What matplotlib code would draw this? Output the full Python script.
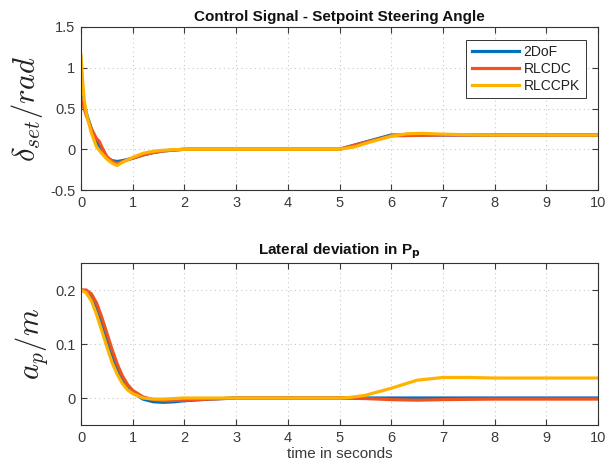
import matplotlib
matplotlib.use("Agg")
import matplotlib.pyplot as plt

plt.rcParams['font.family'] = ['Liberation Sans', 'DejaVu Sans']
plt.rcParams['mathtext.fontset'] = 'cm'

# ---- Top plot: setpoint steering angle (rad) ----
t_d_2dof = [0, 0.05, 0.1, 0.2, 0.3, 0.4, 0.5, 0.6, 0.7, 0.8, 0.9, 1.0, 1.2, 1.4, 1.6, 1.8, 2.0, 3.0, 4.0, 5.0, 5.5, 6.0, 6.5, 7.0, 8.0, 9.0, 10.0]
d_2dof   = [0.66, 0.56, 0.45, 0.25, 0.10, -0.02, -0.10, -0.14, -0.15, -0.14, -0.125, -0.11, -0.07, -0.04, -0.02, -0.01, 0.0, 0.0, 0.0, 0.0, 0.088, 0.175, 0.175, 0.175, 0.175, 0.175, 0.175]

t_d_rlcdc = [0, 0.05, 0.1, 0.2, 0.3, 0.35, 0.4, 0.5, 0.6, 0.7, 0.8, 0.9, 1.0, 1.2, 1.4, 1.6, 1.8, 2.0, 3.0, 4.0, 5.0, 5.5, 6.0, 6.5, 7.0, 8.0, 9.0, 10.0]
d_rlcdc   = [0.62, 0.52, 0.42, 0.25, 0.13, 0.10, 0.03, -0.09, -0.15, -0.17, -0.155, -0.13, -0.11, -0.07, -0.04, -0.02, -0.01, 0.0, 0.0, 0.0, 0.0, 0.085, 0.165, 0.17, 0.175, 0.175, 0.175, 0.175]

t_d_rlccpk = [0, 0.03, 0.06, 0.1, 0.2, 0.3, 0.4, 0.5, 0.6, 0.7, 0.8, 0.9, 1.0, 1.2, 1.4, 1.6, 1.8, 2.0, 3.0, 4.0, 5.0, 5.3, 5.6, 6.0, 6.3, 6.6, 7.0, 7.5, 8.0, 9.0, 10.0]
d_rlccpk   = [1.15, 0.85, 0.62, 0.45, 0.20, 0.03, -0.05, -0.12, -0.17, -0.20, -0.16, -0.13, -0.10, -0.05, -0.025, -0.012, -0.005, 0.0, 0.0, 0.0, 0.0, 0.03, 0.09, 0.16, 0.19, 0.195, 0.185, 0.178, 0.175, 0.175, 0.175]

# ---- Bottom plot: lateral deviation (m) ----
t_a_2dof = [0, 0.1, 0.2, 0.3, 0.4, 0.5, 0.6, 0.7, 0.8, 0.9, 1.0, 1.2, 1.4, 1.6, 1.8, 2.0, 2.5, 3.0, 5.0, 10.0]
a_2dof   = [0.2, 0.198, 0.19, 0.17, 0.14, 0.11, 0.08, 0.055, 0.035, 0.02, 0.01, -0.002, -0.007, -0.008, -0.007, -0.005, -0.002, 0.0, 0.0, 0.0]

t_a_rlcdc = [0, 0.1, 0.2, 0.3, 0.4, 0.5, 0.6, 0.7, 0.8, 0.9, 1.0, 1.2, 1.4, 1.6, 2.0, 3.0, 5.0, 5.5, 6.0, 6.5, 7.0, 8.0, 10.0]
a_rlcdc   = [0.2, 0.2, 0.193, 0.176, 0.15, 0.12, 0.09, 0.063, 0.041, 0.025, 0.014, 0.002, -0.003, -0.005, -0.004, 0.0, 0.0, -0.001, -0.003, -0.004, -0.003, -0.002, -0.002]

t_a_rlccpk = [0, 0.1, 0.2, 0.3, 0.4, 0.5, 0.6, 0.7, 0.8, 0.9, 1.0, 1.2, 1.4, 1.6, 2.0, 3.0, 5.0, 5.2, 5.5, 6.0, 6.5, 7.0, 7.5, 8.0, 10.0]
a_rlccpk   = [0.2, 0.195, 0.18, 0.155, 0.125, 0.095, 0.066, 0.044, 0.027, 0.015, 0.008, 0.0, -0.002, -0.002, 0.0, 0.0, 0.0, 0.001, 0.005, 0.018, 0.033, 0.038, 0.038, 0.037, 0.037]

labels = ['2DoF', 'RLCDC', 'RLCCPK']
colors = ['#0072BD', '#EF5322', '#FFB300']
xticks = list(range(0, 11))
top_yticks = [-0.5, 0, 0.5, 1, 1.5]
top_yticklabels = ['-0.5', '0', '0.5', '1', '1.5']
bot_yticks = [0, 0.1, 0.2]
bot_yticklabels = ['0', '0.1', '0.2']

fig = plt.figure(figsize=(6.13, 4.75), dpi=100)
ax1 = fig.add_axes([81/613, 1-190/475, (598-81)/613, (190-27)/475])
ax2 = fig.add_axes([81/613, 1-425/475, (598-81)/613, (425-263)/475])

tc = '#3a3a3a'
def style(ax):
    ax.set_xlim(0, 10)
    ax.set_xticks(xticks)
    ax.tick_params(direction='in', top=True, right=True, labelsize=10.5, colors=tc, length=4, pad=4)
    for s in ax.spines.values():
        s.set_color('#333333')
        s.set_linewidth(0.8)
    ax.grid(True, linestyle=(0, (1, 3)), color='#c8c8c8', linewidth=0.8)
    ax.set_axisbelow(True)

lw = 2.3
ax1.plot(t_d_2dof, d_2dof, color=colors[0], lw=lw, label=labels[0])
ax1.plot(t_d_rlcdc, d_rlcdc, color=colors[1], lw=lw, label=labels[1])
ax1.plot(t_d_rlccpk, d_rlccpk, color=colors[2], lw=lw, label=labels[2])
style(ax1)
ax1.set_ylim(-0.5, 1.5)
ax1.set_yticks(top_yticks)
ax1.set_yticklabels(top_yticklabels)
ax1.set_title('Control Signal - Setpoint Steering Angle', fontsize=11, fontweight='bold', color='#111111', pad=4)
ax1.set_ylabel(r'$\delta_{set}/rad$', fontsize=22, color='#222222', labelpad=4)
leg = ax1.legend(loc='upper right', bbox_to_anchor=(1.0, 1.0), fontsize=10, fancybox=False, framealpha=1,
                 edgecolor='#333333', handlelength=3.4, borderaxespad=0.9, labelspacing=0.2,
                 handletextpad=0.35, borderpad=0.4)
leg.get_frame().set_linewidth(0.7)
for txt in leg.get_texts():
    txt.set_color('#222222')

ax2.plot(t_a_2dof, a_2dof, color=colors[0], lw=lw)
ax2.plot(t_a_rlcdc, a_rlcdc, color=colors[1], lw=lw)
ax2.plot(t_a_rlccpk, a_rlccpk, color=colors[2], lw=lw)
style(ax2)
ax2.set_ylim(-0.05, 0.25)
ax2.set_yticks(bot_yticks)
ax2.set_yticklabels(bot_yticklabels)
ax2.set_title(r'Lateral deviation in P$_{\mathbf{p}}$', fontsize=11, fontweight='bold', color='#111111',
              pad=6, math_fontfamily='dejavusans')
ax2.set_ylabel(r'$a_p/m$', fontsize=22, color='#222222', labelpad=4)
ax2.set_xlabel('time in seconds', fontsize=11, color=tc, labelpad=2)

fig.savefig('out.png', dpi=100)
